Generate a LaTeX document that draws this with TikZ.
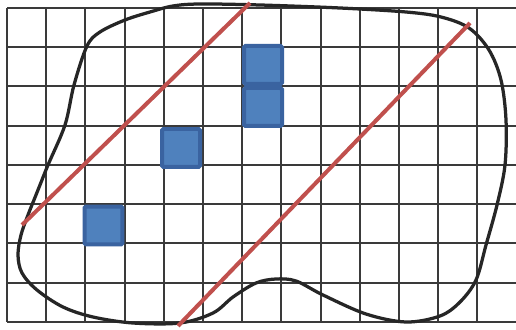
\documentclass[tikz,border=0pt]{standalone}
\usetikzlibrary{calc}
\definecolor{gridc}{HTML}{3A3A3A}
\definecolor{blobc}{HTML}{262626}
\definecolor{redl}{HTML}{C0504D}
\definecolor{bluef}{HTML}{4F81BD}
\definecolor{blueb}{HTML}{3A63A0}
\tikzset{
  gridline/.style={gridc, line width=0.04cm},
  blob/.style={blobc, line width=0.065cm, line join=round},
  redline/.style={redl, line width=0.08cm},
  bluesq/.style={draw=blueb, fill=bluef, line width=0.08cm, minimum size=0.76cm, inner sep=0pt, rounded corners=0.03cm}
}
\begin{document}
\begin{tikzpicture}[x=0.02cm, y=-0.02cm]
\useasboundingbox (0,0) rectangle (516,330);
\fill[white] (0,0) rectangle (516,330);
% grid
\foreach \i in {0,...,12} {
  \draw[gridline] ({7+39.2*\i},8) -- ({7+39.2*\i},322);
}
\foreach \j in {0,...,8} {
  \draw[gridline] (7,{8+39.25*\j}) -- (516,{8+39.25*\j});
}
% blob
\draw[blob] plot[smooth cycle, tension=0.55] coordinates {
 (200,4) (260,5) (340,8) (406,12) (441,17) (469,28) (489,50) (501,80)
 (506,120) (505,165) (497,205) (486,245) (476,280) (460,302) (440,316)
 (406,322) (366,314) (323,295) (296,281) (276,279) (256,283) (233,297)
 (213,313) (180,323) (133,323) (93,317) (63,307) (37,290) (22,273)
 (18,255) (21,235) (28,215) (38,190) (48,165) (65,125) (74,85) (87,46)
 (100,32) (125,20) (150,12) (173,6)
};
% blue squares
\node[bluesq] (sqa) at (263,65) {};
\node[bluesq] (sqb) at (263,107) {};
\node[bluesq] (sqc) at (181,148) {};
\node[bluesq] (sqd) at (103.5,225.5) {};
% red lines
\coordinate (r1a) at (22,225);
\coordinate (r1b) at (250,3);
\coordinate (r2a) at (178,326);
\coordinate (r2b) at (470,23);
\draw[redline] (r1a) -- (r1b);
\draw[redline] (r2a) -- (r2b);
\end{tikzpicture}
\end{document}
